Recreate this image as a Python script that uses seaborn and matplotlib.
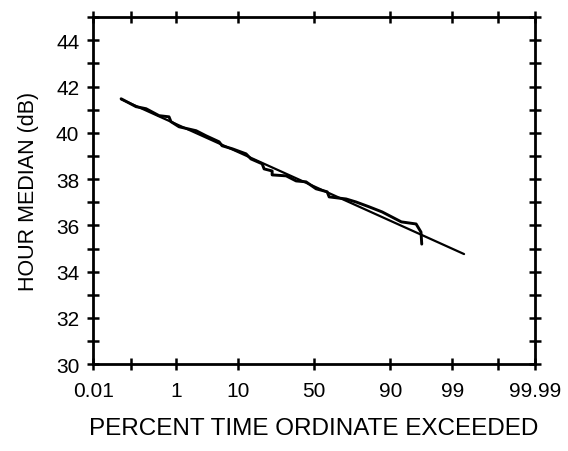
import numpy as np
import pandas as pd
import matplotlib
matplotlib.use("Agg")
import matplotlib.pyplot as plt
import seaborn as sns
from statistics import NormalDist

# measured hour medians (percent exceeded, dB)
meas_pct = [0.058, 0.136, 0.234, 0.454, 0.73, 0.80, 1.15, 2.35, 3.45, 5.49, 6.07,
            8.4, 12.6, 14.4, 19.1, 20.0, 24.0, 24.0, 31.9, 38.1, 44.6, 51.3, 58.7,
            60.0, 70.5, 76.0, 82.3, 87.4, 90.5, 92.9, 95.7, 96.4, 96.5]
meas_db = [41.47, 41.13, 41.04, 40.74, 40.69, 40.48, 40.26, 40.09, 39.87, 39.61, 39.44,
           39.31, 39.09, 38.87, 38.66, 38.44, 38.35, 38.18, 38.14, 37.92, 37.88, 37.58, 37.45,
           37.23, 37.14, 37.01, 36.80, 36.58, 36.36, 36.15, 36.06, 35.71, 35.19]

# fitted normal line
fit_pct = [0.058, 99.42]
fit_db = [41.45, 34.76]

xticks = [0.01, 0.1, 1, 10, 50, 90, 99, 99.9, 99.99]
xticklabels = ["0.01", "", "1", "10", "50", "90", "99", "", "99.99"]
yticks = list(range(30, 46))
yticklabels = [str(v) if (v % 2 == 0 and v < 45) else "" for v in yticks]

nd = NormalDist()


def _safe_ppf(p):
    if not np.isfinite(p):
        return np.nan
    return nd.inv_cdf(min(max(p, 1e-9), 1 - 1e-9))


def _safe_cdf(z):
    if not np.isfinite(z):
        return np.nan
    return nd.cdf(z)


_ppf = np.vectorize(_safe_ppf, otypes=[float])
_cdf = np.vectorize(_safe_cdf, otypes=[float])


def fwd(p):
    return _ppf(np.asarray(p, dtype=float) / 100.0)


def inv(z):
    return _cdf(np.asarray(z, dtype=float)) * 100.0


sns.set_style("ticks")
plt.rcParams['font.family'] = ['Liberation Sans', 'DejaVu Sans']

fig = plt.figure(figsize=(5.68, 4.52), dpi=100)
ax = fig.add_axes([0.164, 0.192, 0.778, 0.768])

df_meas = pd.DataFrame({"pct": meas_pct, "db": meas_db})
df_fit = pd.DataFrame({"pct": fit_pct, "db": fit_db})

sns.lineplot(data=df_meas, x="pct", y="db", ax=ax, color="black", lw=2.1,
             sort=False, estimator=None)
sns.lineplot(data=df_fit, x="pct", y="db", ax=ax, color="black", lw=1.6,
             sort=False, estimator=None)

ax.set_xscale("function", functions=(fwd, inv))
ax.set_xlim(0.01, 99.99)
ax.set_ylim(30, 45)
ax.set_xticks(xticks)
ax.set_xticklabels(xticklabels)
ax.set_yticks(yticks)
ax.set_yticklabels(yticklabels)
ax.minorticks_off()

for s in ax.spines.values():
    s.set_visible(True)
    s.set_linewidth(2.0)
    s.set_color("black")

ax.tick_params(axis="both", which="major", direction="inout", length=8, width=1.8,
               top=True, right=True, labelsize=15, colors="black")
ax.tick_params(axis="x", pad=8)
ax.tick_params(axis="y", pad=6)

ax.set_xlabel("PERCENT TIME ORDINATE EXCEEDED", fontsize=17.5, labelpad=12, color="black")
ax.set_ylabel("HOUR MEDIAN (dB)", fontsize=15.5, labelpad=12, color="black")

fig.savefig("out.png", dpi=100)
